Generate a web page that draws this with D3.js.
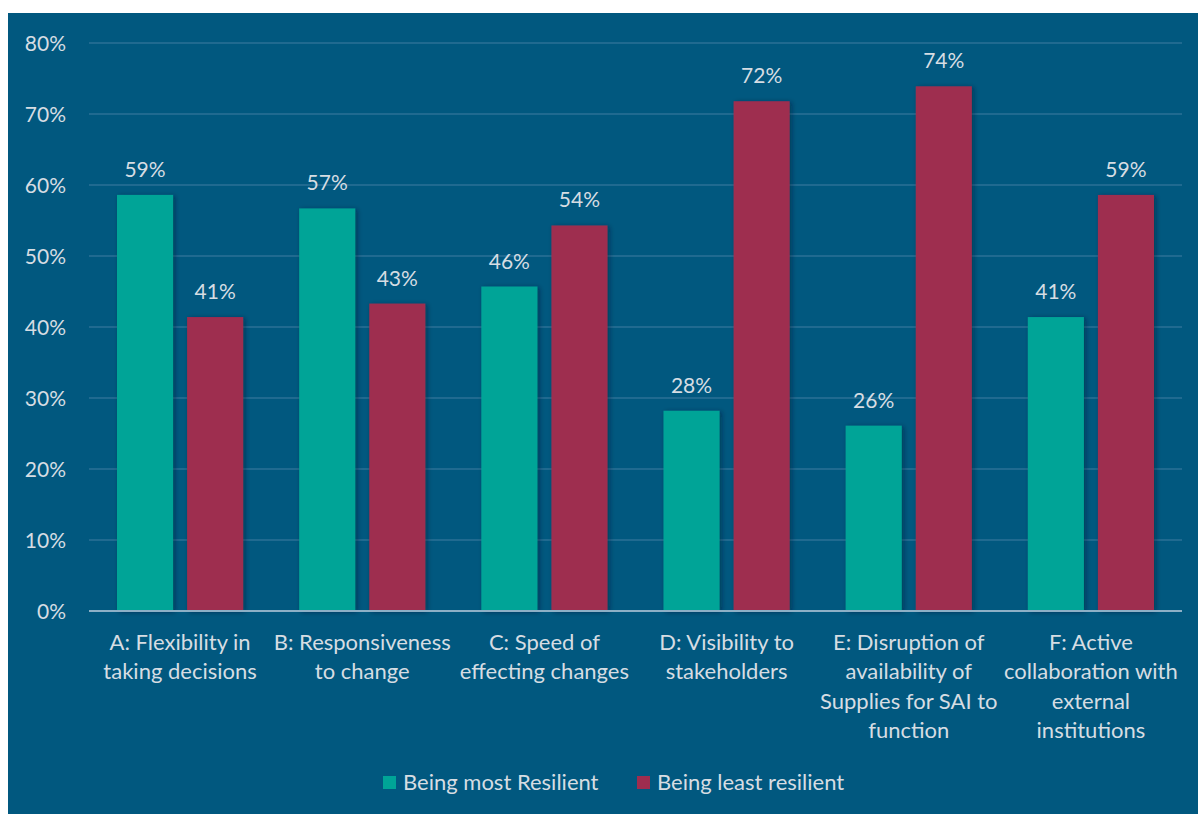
<!DOCTYPE html>
<html>
<head>
<meta charset="utf-8">
<script src="https://cdn.jsdelivr.net/npm/d3@7"></script>
<style>
  html, body { margin: 0; padding: 0; background: #ffffff; }
  svg { display: block; }
</style>
</head>
<body>
<svg id="chart" width="1198" height="814"></svg>
<script>
// Survey responses: share of respondents per resilience factor
const categories = [
  ["A: Flexibility in", "taking decisions"],
  ["B: Responsiveness", "to change"],
  ["C: Speed of", "effecting changes"],
  ["D: Visibility to", "stakeholders"],
  ["E: Disruption of", "availability of", "Supplies for SAI to", "function"],
  ["F: Active", "collaboration with", "external", "institutions"]
];
const seriesNames = ["Being most Resilient", "Being least resilient"];
const mostResilient  = [0.586, 0.567, 0.457, 0.282, 0.261, 0.414];
const leastResilient = [0.414, 0.433, 0.543, 0.718, 0.739, 0.586];
const yTicks = [0, 0.1, 0.2, 0.3, 0.4, 0.5, 0.6, 0.7, 0.8];

const seriesColors = ["#00a497", "#9e2d4f"];
const textColor = "#d6dde3";
const fontFamily = "Lato, 'Open Sans', sans-serif";

const svg = d3.select("#chart");
const W = 1198, H = 814;

// dark blue panel
svg.append("rect")
  .attr("x", 8).attr("y", 13).attr("width", W - 8).attr("height", H - 13)
  .attr("fill", "#01587f");

const defs = svg.append("defs");
const shadow = defs.append("filter").attr("id", "barShadow")
  .attr("x", "-20%").attr("y", "-10%").attr("width", "150%").attr("height", "120%");
shadow.append("feDropShadow")
  .attr("dx", 2).attr("dy", 1).attr("stdDeviation", 2.5)
  .attr("flood-color", "#001a2a").attr("flood-opacity", 0.45);

const plot = { left: 89, right: 1182, top: 43, bottom: 611 };

const x0 = d3.scaleBand()
  .domain(d3.range(categories.length))
  .range([plot.left, plot.right])
  .paddingInner(0).paddingOuter(0);

const x1 = d3.scaleBand()
  .domain([0, 1])
  .range([28, x0.bandwidth() - 28])
  .paddingInner(0.2).paddingOuter(0);

const y = d3.scaleLinear().domain([0, 0.8]).range([plot.bottom, plot.top]);

// gridlines
svg.append("g")
  .selectAll("line")
  .data(yTicks.filter(t => t > 0))
  .join("line")
  .attr("x1", plot.left).attr("x2", plot.right)
  .attr("y1", d => y(d)).attr("y2", d => y(d))
  .attr("stroke", "#2b7096").attr("stroke-width", 1.3);

// y axis labels
const yAxis = d3.axisLeft(y).tickValues(yTicks).tickFormat(d3.format(".0%")).tickSize(0).tickPadding(0);
const gy = svg.append("g").attr("transform", `translate(66,0)`).call(yAxis);
gy.select(".domain").remove();
gy.selectAll("text")
  .attr("fill", textColor)
  .attr("font-family", fontFamily)
  .attr("font-size", 21)
  .attr("dy", "0.34em");

// bars
const groups = svg.append("g").selectAll("g")
  .data(categories.map((c, i) => ({ i, values: [mostResilient[i], leastResilient[i]] })))
  .join("g")
  .attr("transform", d => `translate(${x0(d.i)},0)`);

groups.selectAll("rect")
  .data(d => d.values.map((v, s) => ({ v, s })))
  .join("rect")
  .attr("x", d => x1(d.s))
  .attr("width", x1.bandwidth())
  .attr("y", d => y(d.v))
  .attr("height", d => y(0) - y(d.v))
  .attr("fill", d => seriesColors[d.s])
  .attr("filter", "url(#barShadow)");

// value labels
groups.selectAll("text.value")
  .data(d => d.values.map((v, s) => ({ v, s })))
  .join("text")
  .attr("class", "value")
  .attr("x", d => x1(d.s) + x1.bandwidth() / 2)
  .attr("y", d => y(d.v) - 18)
  .attr("text-anchor", "middle")
  .attr("fill", textColor)
  .attr("font-family", fontFamily)
  .attr("font-size", 21)
  .text(d => d3.format(".0%")(d.v));

// x axis line
svg.append("line")
  .attr("x1", plot.left).attr("x2", plot.right)
  .attr("y1", plot.bottom).attr("y2", plot.bottom)
  .attr("stroke", "#8db0c6").attr("stroke-width", 2);

// category labels
const catG = svg.append("g").selectAll("text")
  .data(categories)
  .join("text")
  .attr("x", (d, i) => x0(i) + x0.bandwidth() / 2)
  .attr("y", 650)
  .attr("text-anchor", "middle")
  .attr("fill", textColor)
  .attr("font-family", fontFamily)
  .attr("font-size", 22);
catG.selectAll("tspan")
  .data(d => d)
  .join("tspan")
  .attr("x", function () { return d3.select(this.parentNode).attr("x"); })
  .attr("dy", (d, i) => i === 0 ? 0 : 29.3)
  .text(d => d);

// legend
const legend = svg.append("g");
const legendItems = [
  { name: seriesNames[0], color: seriesColors[0], x: 383 },
  { name: seriesNames[1], color: seriesColors[1], x: 637 }
];
const li = legend.selectAll("g").data(legendItems).join("g")
  .attr("transform", d => `translate(${d.x},776)`);
li.append("rect").attr("width", 13).attr("height", 13).attr("fill", d => d.color);
li.append("text")
  .attr("x", 20).attr("y", 14)
  .attr("fill", textColor)
  .attr("font-family", fontFamily)
  .attr("font-size", 22)
  .text(d => d.name);
</script>
</body>
</html>
